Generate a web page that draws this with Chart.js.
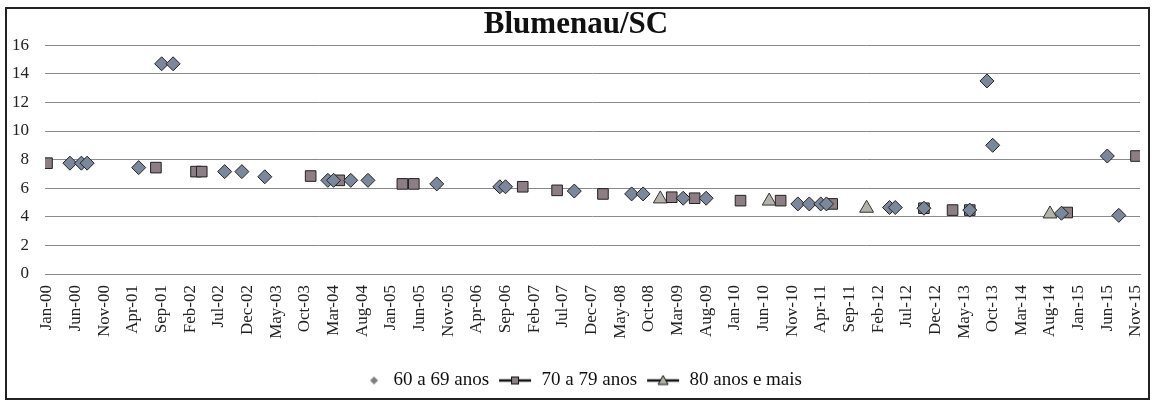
<!DOCTYPE html>
<html>
<head>
<meta charset="utf-8">
<script src="https://cdn.jsdelivr.net/npm/chart.js@4/dist/chart.umd.min.js"></script>
<style>
  html, body { margin: 0; padding: 0; background: #fff; }
  #wrap { width: 1154px; height: 400px; }
</style>
</head>
<body>
<div id="wrap"><canvas id="chart" width="1154" height="400"></canvas></div>
<script>
// Blumenau/SC – serie mensal por faixa etaria (pontos)

const MONTHS = ["Jan", "Feb", "Mar", "Apr", "May", "Jun", "Jul", "Aug", "Sep", "Oct", "Nov", "Dec"];

// 60 a 69 anos
const dates60 = ["May-00", "Jul-00", "Aug-00", "May-01", "Sep-01", "Nov-01", "Aug-02", "Nov-02", "Mar-03",
  "Feb-04", "Mar-04", "Jun-04", "Sep-04", "Sep-05", "Aug-06", "Sep-06", "Sep-07", "Jul-08", "Sep-08",
  "Apr-09", "Aug-09", "Dec-10", "Feb-11", "Apr-11", "May-11", "Apr-12", "May-12", "Oct-12", "Jun-13",
  "Sep-13", "Oct-13", "Oct-14", "Jun-15", "Aug-15"];
const values60 = [7.75, 7.75, 7.75, 7.44, 14.7, 14.7, 7.16, 7.16, 6.8,
  6.55, 6.55, 6.55, 6.55, 6.3, 6.1, 6.1, 5.8, 5.6, 5.6,
  5.3, 5.3, 4.9, 4.9, 4.9, 4.9, 4.65, 4.65, 4.6, 4.47,
  13.5, 9.0, 4.25, 8.25, 4.1];

// 70 a 79 anos
const dates70 = ["Jan-00", "Aug-01", "Mar-02", "Apr-02", "Nov-03", "Apr-04", "Mar-05", "May-05", "Dec-06",
  "Jun-07", "Feb-08", "Feb-09", "Jun-09", "Feb-10", "Sep-10", "Jun-11", "Oct-12", "Mar-13", "Jun-13",
  "Nov-14", "Nov-15"];
const values70 = [7.75, 7.44, 7.16, 7.16, 6.85, 6.55, 6.3, 6.3, 6.1,
  5.85, 5.6, 5.37, 5.3, 5.13, 5.13, 4.9, 4.6, 4.47, 4.47,
  4.3, 8.25];

// 80 anos e mais
const dates80 = ["Dec-08", "Jul-10", "Dec-11", "Aug-14"];
const values80 = [5.25, 5.1, 4.6, 4.2];

// rotulos do eixo x: a cada 5 meses de Jan-00 a Nov-15
const tickMonths = [];
for (let m = 0; m <= 190; m += 5) tickMonths.push(m);

const SERIF = "'Liberation Serif', 'Times New Roman', serif";

function monthIndex(label) {
  const [mon, yy] = label.split("-");
  return parseInt(yy, 10) * 12 + MONTHS.indexOf(mon);
}

function monthLabel(idx) {
  const y = Math.floor(idx / 12);
  return MONTHS[idx % 12] + "-" + String(y).padStart(2, "0");
}

function toPoints(dates, values) {
  return dates.map((d, i) => ({ x: monthIndex(d), y: values[i] }));
}

// icones da legenda
function legendIcon(kind) {
  const c = document.createElement("canvas");
  c.width = 34;
  c.height = 16;
  const g = c.getContext("2d");
  if (kind === "diamond") {
    g.fillStyle = "#7f7f7f";
    g.beginPath();
    g.moveTo(24, 4); g.lineTo(28, 8); g.lineTo(24, 12); g.lineTo(20, 8);
    g.closePath();
    g.fill();
    return c;
  }
  g.strokeStyle = "#111";
  g.lineWidth = 2.5;
  g.beginPath();
  g.moveTo(1, 8); g.lineTo(33, 8);
  g.stroke();
  g.lineWidth = 1;
  if (kind === "square") {
    g.fillStyle = "#8d7d84";
    g.fillRect(13, 4, 8, 8);
    g.strokeRect(13.5, 4.5, 7, 7);
  } else {
    g.fillStyle = "#b3b2aa";
    g.beginPath();
    g.moveTo(17, 3); g.lineTo(22, 12); g.lineTo(12, 12);
    g.closePath();
    g.fill();
    g.stroke();
  }
  return c;
}
const legendIcons = [legendIcon("diamond"), legendIcon("square"), legendIcon("triangle")];

const frame = {
  id: "frame",
  afterDraw(chart) {
    const ctx = chart.ctx;
    ctx.save();
    ctx.strokeStyle = "#222";
    ctx.lineWidth = 2;
    ctx.strokeRect(6, 8, 1143, 391);
    ctx.restore();
  }
};

new Chart(document.getElementById("chart"), {
  type: "scatter",
  data: {
    datasets: [
      {
        label: "60 a 69 anos",
        data: toPoints(dates60, values60),
        pointStyle: "rectRot",
        pointRadius: 7,
        backgroundColor: "#7b889b",
        borderColor: "#222",
        borderWidth: 1
      },
      {
        label: "70 a 79 anos",
        data: toPoints(dates70, values70),
        pointStyle: "rect",
        pointRadius: 7.5,
        backgroundColor: "#8d7d84",
        borderColor: "#222",
        borderWidth: 1
      },
      {
        label: "80 anos e mais",
        data: toPoints(dates80, values80),
        pointStyle: "triangle",
        pointRadius: 8,
        backgroundColor: "#b3b2aa",
        borderColor: "#333",
        borderWidth: 1
      }
    ]
  },
  options: {
    responsive: false,
    animation: false,
    layout: { padding: { left: 12, right: 14, top: 0, bottom: 0 } },
    scales: {
      x: {
        type: "linear",
        min: -0.35,
        max: 190.7,
        grid: { display: false },
        border: { display: true, color: "#8a8a8a" },
        afterBuildTicks: (scale) => {
          scale.ticks = tickMonths.map((v) => ({ value: v }));
        },
        afterFit: (scale) => {
          scale.height = 88;
          scale.paddingLeft = 0;
          scale.paddingRight = 0;
        },
        ticks: {
          autoSkip: false,
          minRotation: 90,
          maxRotation: 90,
          padding: 3,
          color: "#222",
          font: { family: SERIF, size: 17 },
          callback: (v) => monthLabel(v)
        }
      },
      y: {
        min: 0,
        max: 16,
        grid: { color: "#8a8a8a", drawTicks: false },
        border: { display: false },
        afterFit: (scale) => { scale.width = 33; },
        ticks: {
          stepSize: 2,
          padding: 16,
          color: "#222",
          font: { family: SERIF, size: 17 }
        }
      }
    },
    plugins: {
      title: {
        display: true,
        text: "Blumenau/SC",
        color: "#111",
        font: { family: SERIF, size: 31, weight: "bold" },
        padding: { top: 6, bottom: 2 }
      },
      legend: {
        position: "bottom",
        labels: {
          usePointStyle: true,
          pointStyleWidth: 34,
          padding: 9,
          color: "#111",
          font: { family: SERIF, size: 19 },
          generateLabels: (chart) => {
            const items = Chart.defaults.plugins.legend.labels.generateLabels(chart);
            items.forEach((it, i) => { it.pointStyle = legendIcons[i]; });
            return items;
          }
        }
      },
      tooltip: { enabled: false }
    }
  },
  plugins: [frame]
});
</script>
</body>
</html>
